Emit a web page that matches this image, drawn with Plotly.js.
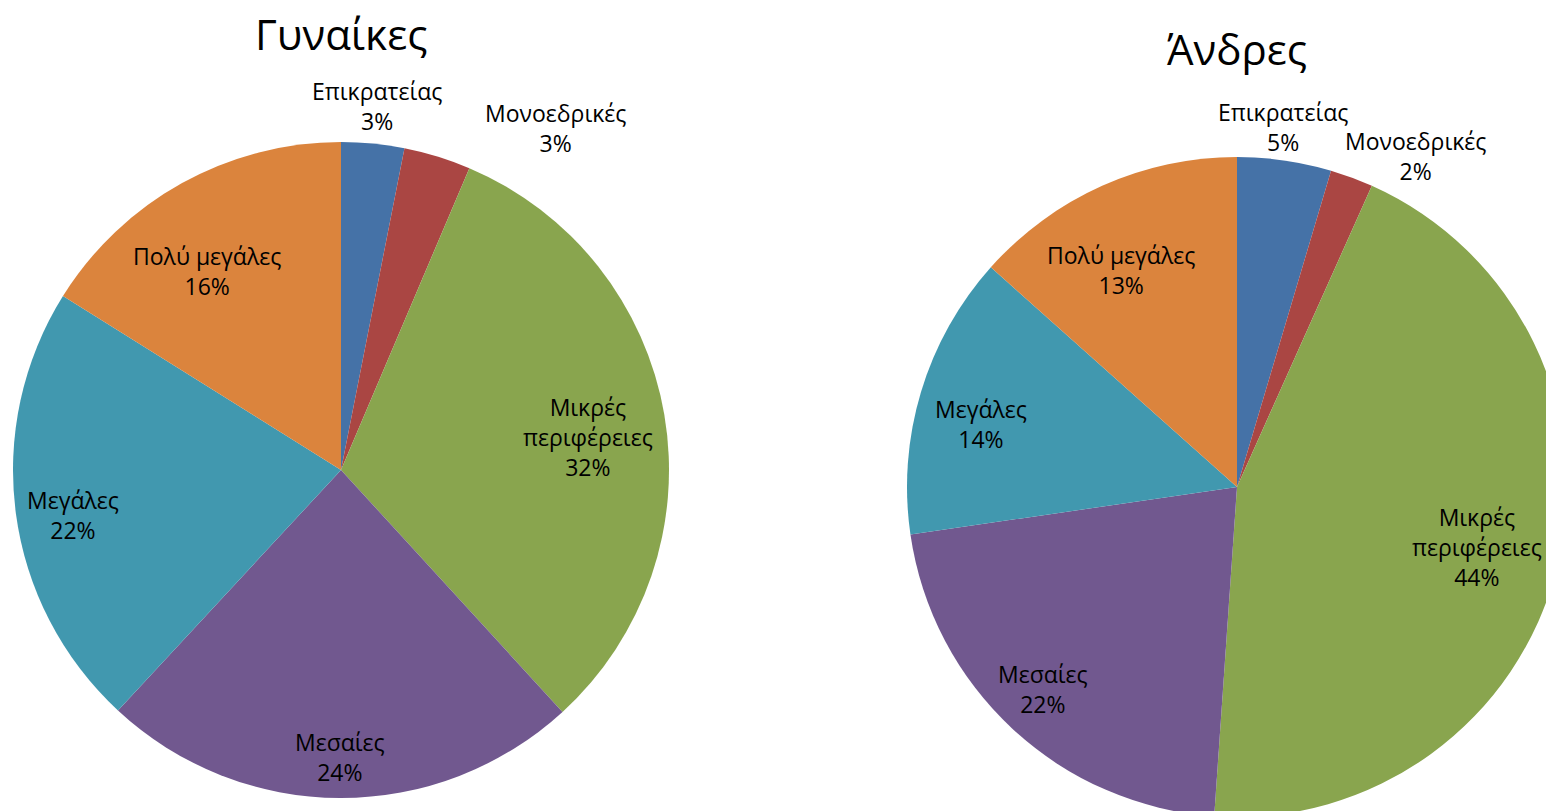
<!DOCTYPE html>
<html>
<head>
<meta charset="utf-8">
<script src="https://cdn.plot.ly/plotly-3.0.1.min.js"></script>
<style>
  html, body { margin: 0; padding: 0; overflow: hidden; background: #fff; }
  #chart { width: 1600px; height: 830px; }
</style>
</head>
<body>
<div id="chart"></div>
<script>
// ---- data ----
const categories = ["Επικρατείας", "Μονοεδρικές", "Μικρές<br>περιφέρειες", "Μεσαίες", "Μεγάλες", "Πολύ μεγάλες"];
const womenValues = [3.1, 3.3, 31.8, 23.7, 22.0, 16.1];
const menValues   = [4.6, 2.1, 44.4, 21.6, 13.9, 13.4];
const pieTitles = ["Γυναίκες", "Άνδρες"];

// ---- layout / style config ----
const W = 1600, H = 830;
const colors = ["#4572A7", "#AA4643", "#89A54E", "#71588F", "#4198AF", "#DB843D"];
const FONT = "Open Sans, Noto Sans, DejaVu Sans, sans-serif";
const pies = [
  { values: womenValues, title: pieTitles[0], cx: 341, cy: 470, r: 328, titleY: 33,
    labelR: [1.116, 1.23, 0.76, 0.875, 0.83, 0.73], labelDA: [0, 15, 2, 0, -2, -5] },
  { values: menValues, title: pieTitles[1], cx: 1237, cy: 487, r: 330, titleY: 48,
    labelR: [1.10, 1.14, 0.75, 0.85, 0.80, 0.745], labelDA: [-1, 8, 0, 1, -3, -4] }
];

const traces = [];
const annotations = [];
pies.forEach(p => {
  traces.push({
    type: "pie",
    values: p.values,
    labels: categories,
    sort: false,
    direction: "clockwise",
    rotation: 0,
    textinfo: "none",
    hoverinfo: "none",
    showlegend: false,
    marker: { colors: colors, line: { width: 0 } },
    domain: {
      x: [(p.cx - p.r) / W, (p.cx + p.r) / W],
      y: [(H - (p.cy + p.r)) / H, (H - (p.cy - p.r)) / H]
    }
  });
  annotations.push({
    xref: "paper", yref: "paper",
    x: p.cx / W, y: (H - p.titleY) / H,
    text: p.title, showarrow: false,
    xanchor: "center", yanchor: "middle",
    font: { family: FONT, size: 42, color: "#000" }
  });
  const total = p.values.reduce((a, b) => a + b, 0);
  let cum = 0;
  p.values.forEach((v, i) => {
    const mid = (cum + v / 2) / total * 360 + p.labelDA[i];
    cum += v;
    const th = mid * Math.PI / 180;
    const rr = p.r * p.labelR[i];
    const px = p.cx + rr * Math.sin(th);
    const py = p.cy - rr * Math.cos(th);
    annotations.push({
      xref: "paper", yref: "paper",
      x: px / W, y: (H - py) / H,
      text: categories[i] + "<br>" + Math.round(v / total * 100) + "%",
      showarrow: false, xanchor: "center", yanchor: "middle",
      align: "center",
      font: { family: FONT, size: 23, color: "#000" }
    });
  });
});

Plotly.newPlot("chart", traces, {
  width: W, height: H,
  margin: { l: 0, r: 0, t: 0, b: 0 },
  paper_bgcolor: "#fff",
  annotations: annotations
}, { staticPlot: true, displayModeBar: false });
</script>
</body>
</html>
